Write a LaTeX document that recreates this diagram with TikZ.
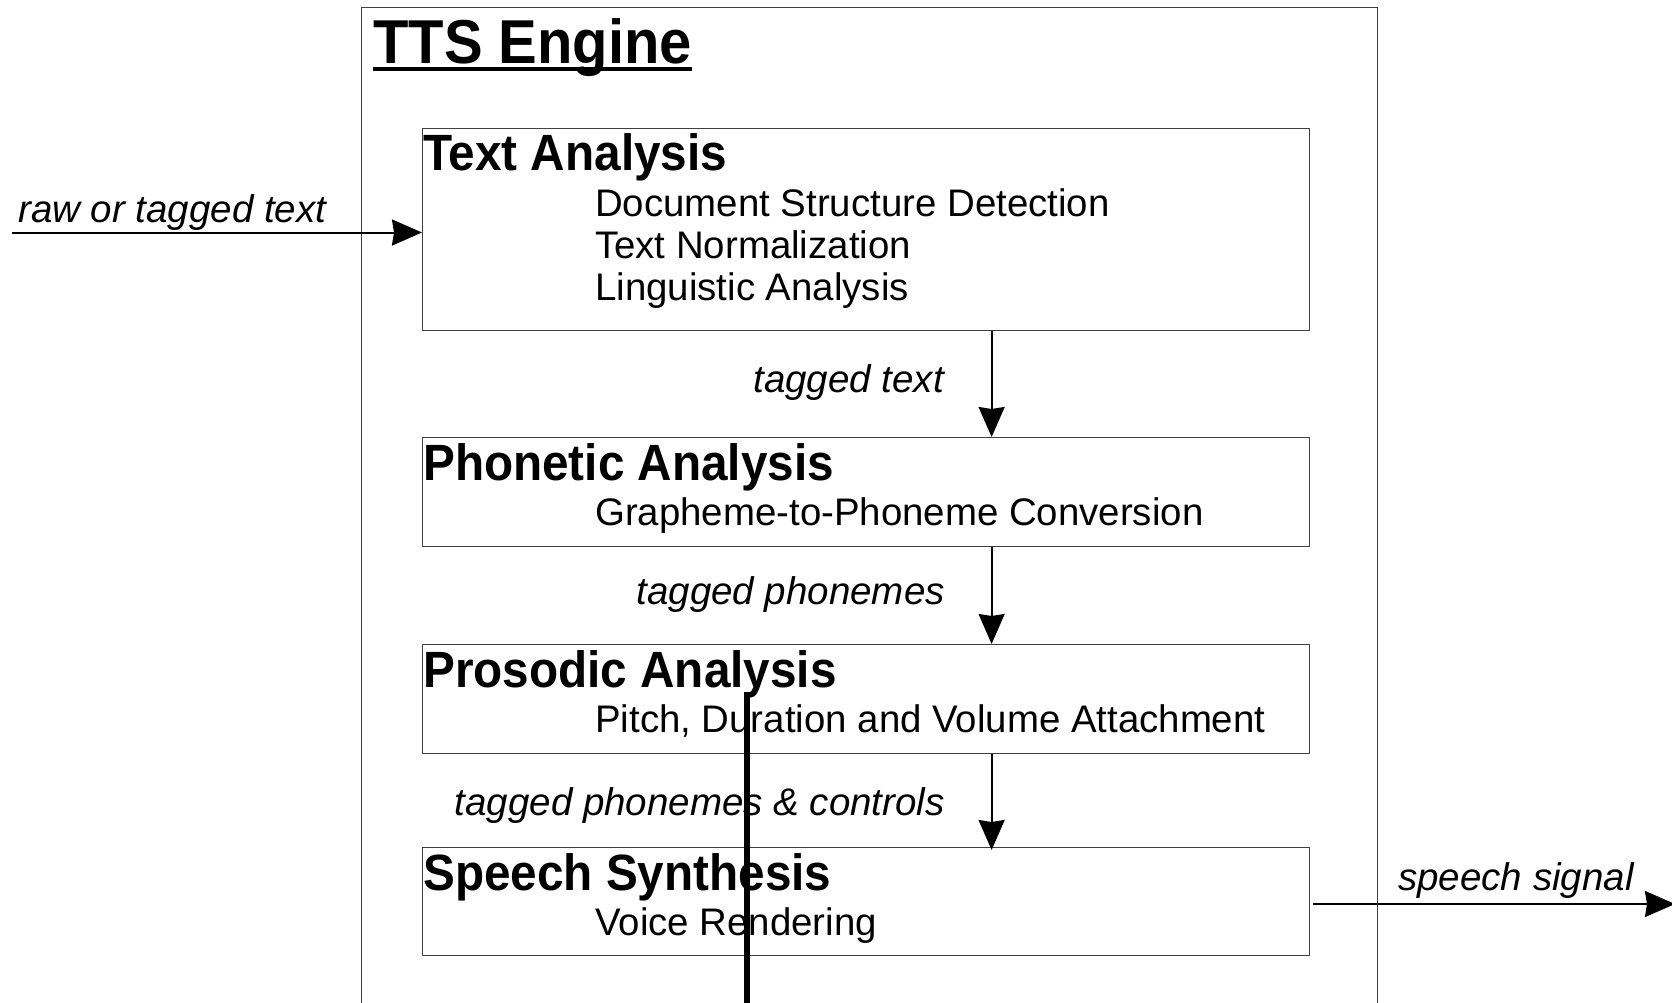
\documentclass[tikz,border=0pt]{standalone}
\usepackage{fontspec}
\setmainfont{Liberation Sans}[BoldFeatures={FakeStretch=0.935}]
\usetikzlibrary{arrows.meta,calc}
\tikzset{
  stagebox/.style={draw=black!75, line width=1.3pt, rectangle, inner sep=0pt, anchor=north west},
  arr/.style={draw=black, line width=2pt, -{Stealth[length=30pt,width=26pt,inset=2pt]}},
  txt/.style={inner sep=0pt, anchor=base west},
  lbl/.style={inner sep=0pt, font=\fontsize{38.5}{42}\selectfont\itshape},
  head/.style={txt, font=\fontsize{51}{56}\selectfont\bfseries},
  sub/.style={txt, font=\fontsize{38.4}{42}\selectfont},
}
\begin{document}
\begin{tikzpicture}[x=1pt,y=-1pt]
\useasboundingbox (0,0) rectangle (1672,1002);
% outer engine frame (open past the bottom edge)
\coordinate (eBL) at (361.5,1020);
\coordinate (eTL) at (361.5,7.5);
\coordinate (eTR) at (1377.5,7.5);
\coordinate (eBR) at (1377.5,1020);
\draw[black!75, line width=1.3pt] (eBL) -- (eTL) -- (eTR) -- (eBR);
% title
\node[txt, font=\fontsize{62}{68}\selectfont\bfseries] (title) at (373,63) {TTS Engine};
\draw[line width=3.5pt] ($(title.base west)+(0,6)$) -- ($(title.base east)+(0,6)$);
% stage boxes
\node[stagebox, minimum width=887pt, minimum height=202pt] (ta) at (422,128) {};
\node[stagebox, minimum width=887pt, minimum height=109pt] (pa) at (422,437) {};
\node[stagebox, minimum width=887pt, minimum height=109pt] (pr) at (422,644) {};
\node[stagebox, minimum width=887pt, minimum height=108pt] (ss) at (422,847) {};
% box texts
\node[head] (taH) at (423,170) {Text Analysis};
\node[sub] (ta1) at (595,216.5) {Document Structure Detection};
\node[sub] (ta2) at (595,258.5) {Text Normalization};
\node[sub] (ta3) at (595,300.5) {Linguistic Analysis};
\node[head] (paH) at (423,480) {Phonetic Analysis};
\node[sub] (pa1) at (595,525.5) {Grapheme-to-Phoneme Conversion};
\node[head] (prH) at (423,687) {Prosodic Analysis};
\node[sub] (pr1) at (595,732.5) {Pitch, Duration and Volume Attachment};
\node[head] (ssH) at (423,890) {Speech Synthesis};
\node[sub] (ss1) at (595,935.5) {Voice Rendering};
% connectors
\coordinate (ax) at (991.6,0);
\draw[arr] (ta.south -| ax) -- (pa.north -| ax);
\draw[arr] (pa.south -| ax) -- (pr.north -| ax);
\draw[arr] (pr.south -| ax) -- ($(ss.north -| ax)+(0,3)$);
\node[lbl, anchor=base east] (l1) at (944,392) {tagged text};
\node[lbl, anchor=base east] (l2) at (945,604.5) {tagged phonemes};
\node[lbl, anchor=base east] (l3) at (945,815.5) {tagged phonemes \& controls};
% input / output
\coordinate (in) at (12,232.5);
\draw[arr] (in) -- (in -| ta.west);
\node[lbl, anchor=base west] (lin) at (18,222) {raw or tagged text};
\coordinate (out) at (1675,904);
\draw[arr] ($(ss.east |- out)+(3,0)$) -- (out);
\node[lbl, anchor=base west] (lout) at (1398,890) {speech signal};
% thick vertical stroke
\coordinate (vT) at (746.5,692);
\coordinate (vB) at (746.5,1010);
\draw[line width=6pt] (vT) -- (vB);
\end{tikzpicture}
\end{document}
